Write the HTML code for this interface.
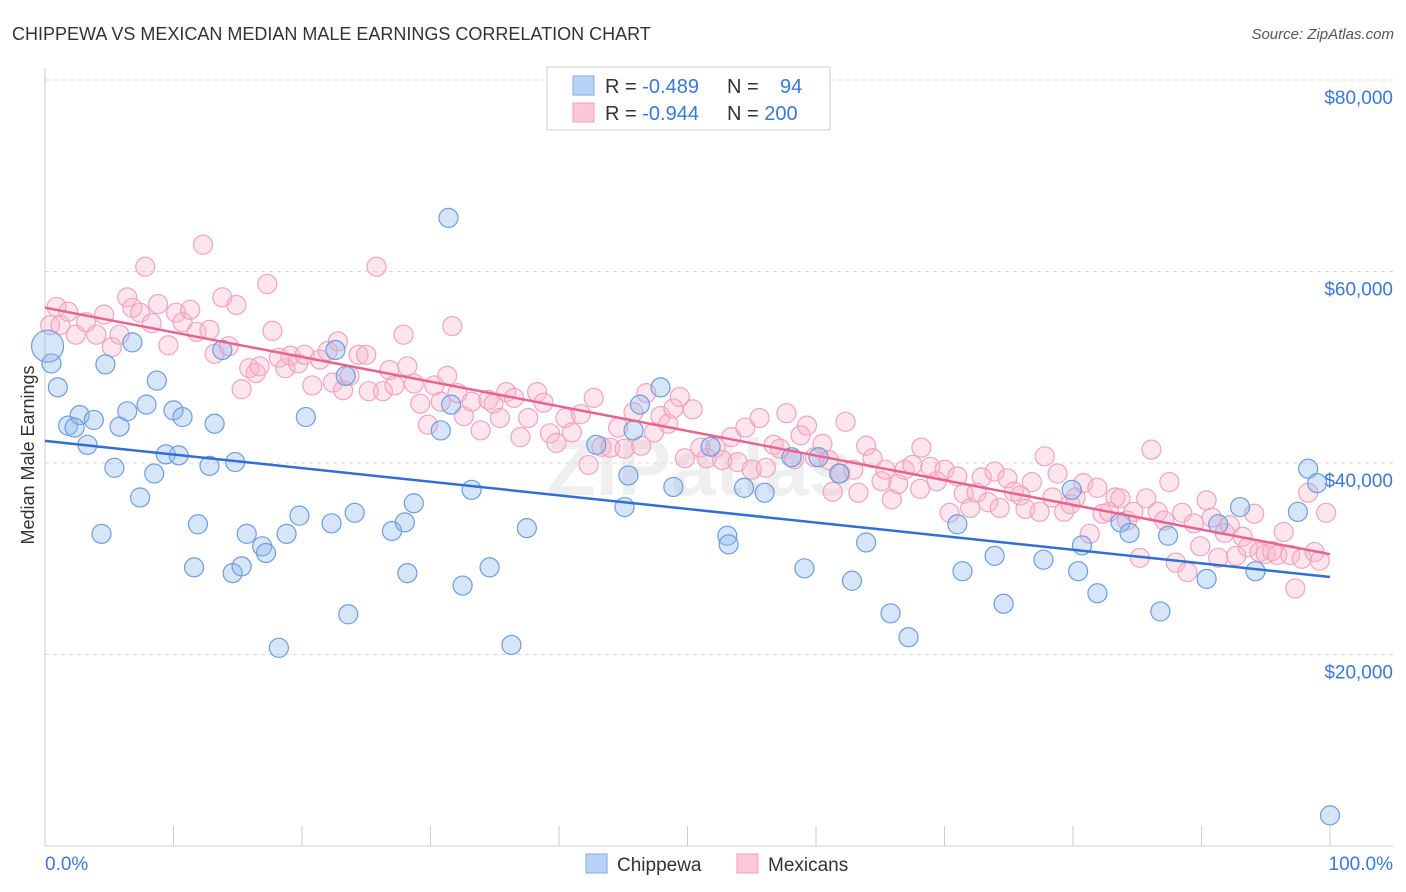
<!DOCTYPE html>
<html><head><meta charset="utf-8"><style>
body{margin:0;background:#fff;font-family:"Liberation Sans",sans-serif;}
#c{position:absolute;left:0;top:0;}
</style></head><body>
<svg id="c" width="1406" height="892" xmlns="http://www.w3.org/2000/svg">
<text x="12" y="40" font-size="18" fill="#333">CHIPPEWA VS MEXICAN MEDIAN MALE EARNINGS CORRELATION CHART</text>
<text x="1394" y="39" font-size="15" fill="#555" font-style="italic" text-anchor="end">Source: ZipAtlas.com</text>
<text x="34" y="455" font-size="18" fill="#333" transform="rotate(-90 34 455)" text-anchor="middle">Median Male Earnings</text>
<text x="700" y="495" font-size="80" font-weight="bold" fill="#efefef" text-anchor="middle">ZIPatlas</text>
<g id="grid"></g><g id="axes"></g><g id="pts"></g><g id="lines"></g>
<g>
<rect x="547" y="67" width="283" height="63" fill="#fff" stroke="#ccc"/>
<rect x="573" y="76" width="21" height="19" fill="#b8d3f5" stroke="#7ea9e0"/>
<rect x="573" y="103" width="21" height="19" fill="#fbc8d7" stroke="#f0a0bb"/>
<text x="605" y="93" font-size="20" fill="#333">R = <tspan fill="#3a78d8">-0.489</tspan></text>
<text x="727" y="93" font-size="20" fill="#333">N = <tspan x="780" fill="#3a78d8">94</tspan></text>
<text x="605" y="120" font-size="20" fill="#333">R = <tspan fill="#3a78d8">-0.944</tspan></text>
<text x="727" y="120" font-size="20" fill="#333">N = <tspan fill="#3a78d8">200</tspan></text>
</g>
<g>
<rect x="586" y="854" width="21" height="19" fill="#b8d3f5" stroke="#7ea9e0"/>
<text x="617" y="871" font-size="19" fill="#333">Chippewa</text>
<rect x="737" y="854" width="21" height="19" fill="#fbc8d7" stroke="#f0a0bb"/>
<text x="768" y="871" font-size="19" fill="#333">Mexicans</text>
</g>
</svg>
<script>
const yTicks=[20000,40000,60000,80000];
const yTickLabels=["$20,000","$40,000","$60,000","$80,000"];
const xTickLabels=["0.0%","100.0%"];
const blueX=[0.5,1.0,1.8,2.7,2.3,3.3,3.8,4.4,4.7,5.4,5.8,6.4,6.8,7.4,7.9,8.5,8.7,9.4,10.0,10.4,10.7,11.6,11.9,12.8,13.2,13.8,14.6,14.8,15.3,15.7,16.9,17.2,18.2,18.8,19.8,20.3,22.3,22.6,23.4,23.6,24.1,27.0,28.0,28.2,28.7,30.8,31.4,31.6,32.5,33.2,34.6,36.3,37.5,42.9,45.1,45.4,45.8,46.3,47.9,48.9,51.8,53.1,53.2,54.4,56.0,58.1,59.1,60.2,61.8,62.8,63.9,65.8,67.2,71.0,71.4,73.9,74.6,77.7,79.9,80.4,80.7,81.9,83.7,84.4,86.8,87.4,90.4,91.3,93.0,94.2,97.5,98.3,99.0,100,0.2];
const blueY=[50.4,47.9,43.9,45.0,43.7,41.9,44.5,32.6,50.3,39.5,43.8,45.4,52.6,36.4,46.1,38.9,48.6,40.9,45.5,40.8,44.8,29.1,33.6,39.7,44.1,51.8,28.5,40.1,29.2,32.6,31.3,30.6,20.7,32.6,34.5,44.8,33.7,51.8,49.1,24.2,34.8,32.9,33.8,28.5,35.8,43.4,65.6,46.1,27.2,37.2,29.1,21.0,33.2,41.9,35.4,38.7,43.4,46.1,47.9,37.5,41.7,32.4,31.5,37.4,36.9,40.6,29.0,40.6,38.9,27.7,31.7,24.3,21.8,33.6,28.7,30.3,25.3,29.9,37.2,28.7,31.4,26.4,33.8,32.7,24.5,32.4,27.9,33.6,35.4,28.7,34.9,39.4,37.9,3.2,52.2];
const pinkX=[0.4,0.9,1.2,1.8,2.4,3.2,4.0,4.6,5.2,5.8,6.4,6.8,7.4,7.8,8.3,8.8,9.6,10.2,10.7,11.3,11.8,12.3,12.8,13.2,13.8,14.3,14.9,15.3,15.9,16.4,16.7,17.3,17.7,18.2,18.7,19.1,19.7,20.2,20.8,21.4,22.0,22.4,22.8,23.2,23.7,24.4,25.0,25.2,25.8,26.3,26.8,27.2,27.9,28.2,28.7,29.2,29.8,30.3,30.8,31.3,31.7,32.1,32.6,33.2,33.9,34.5,34.9,35.4,35.9,36.5,37.0,37.6,38.3,38.8,39.3,39.8,40.5,41.0,41.7,42.3,42.7,43.3,44.0,44.6,45.1,45.8,46.4,46.8,47.4,47.9,48.5,48.9,49.4,49.8,50.4,51.0,51.5,52.2,52.7,53.4,53.9,54.5,55.0,55.6,56.1,56.7,57.2,57.7,58.3,58.8,59.3,59.9,60.5,61.0,61.3,61.9,62.3,62.9,63.3,63.9,64.4,65.1,65.4,65.9,66.4,66.9,67.5,68.1,68.2,68.9,69.4,70.0,70.4,71.0,71.5,72.0,72.5,72.9,73.4,73.9,74.3,74.9,75.4,75.9,76.3,76.8,77.4,77.8,78.4,78.8,79.3,79.8,80.2,80.8,81.3,81.9,82.3,82.8,83.3,83.7,84.2,84.7,85.2,85.7,86.1,86.6,87.1,87.5,88.0,88.5,88.9,89.4,89.9,90.4,90.8,91.3,91.8,92.2,92.7,93.2,93.6,94.1,94.5,95.0,95.5,95.9,96.4,96.9,97.3,97.8,98.3,98.8,99.2,99.7];
const pinkY=[54.4,56.3,54.4,55.8,53.4,54.7,53.4,55.5,52.1,53.4,57.3,56.2,55.7,60.5,54.6,56.6,52.3,55.7,54.7,56.0,53.7,62.8,53.9,51.4,57.3,52.2,56.5,47.7,49.9,49.4,50.1,58.7,53.8,51.0,49.9,51.2,50.4,51.3,48.1,50.8,51.7,48.4,52.7,47.6,49.1,51.3,51.3,47.5,60.5,47.5,49.7,48.1,53.4,50.1,48.3,46.2,44.0,48.1,46.4,49.1,54.3,47.3,44.9,46.4,43.4,46.6,46.2,44.7,47.4,46.8,42.7,44.7,47.4,46.3,43.1,42.1,44.7,43.2,45.1,39.8,46.8,41.7,41.6,43.7,41.5,45.3,41.8,47.3,43.2,44.9,44.1,45.7,46.9,40.5,45.6,41.6,40.5,41.6,40.3,42.7,40.1,43.7,39.3,44.7,39.5,41.9,41.5,45.2,40.4,42.9,43.9,40.6,42.0,40.3,37.0,38.9,44.3,39.3,36.9,41.8,40.5,38.1,39.3,36.2,37.8,39.3,39.8,37.3,41.6,39.6,38.1,39.3,34.8,38.6,36.8,35.3,36.9,38.5,35.9,39.1,35.3,38.4,37.0,36.6,35.2,38.0,34.9,40.7,36.4,38.9,34.9,35.7,36.4,37.9,32.6,37.4,34.7,34.9,36.4,36.3,34.0,34.9,30.1,36.3,41.4,34.9,34.0,38.0,29.6,34.8,28.6,33.7,31.3,36.1,34.3,30.1,32.7,33.5,30.3,32.3,31.2,34.7,30.7,30.5,30.8,30.4,32.8,30.4,26.9,30.0,36.9,30.7,29.8,34.8];
const NS='http://www.w3.org/2000/svg';
const X0=45,X1=1330,Y0=846,PY=191.5/20000;
function xs(p){return X0+(X1-X0)*p/100;}
function ys(v){return Y0-v*PY;}
function mk(t,a,parent){const e=document.createElementNS(NS,t);for(const k in a)e.setAttribute(k,a[k]);parent.appendChild(e);return e;}
const grid=document.getElementById('grid'),axes=document.getElementById('axes'),pts=document.getElementById('pts'),lines=document.getElementById('lines');
yTicks.forEach((v,i)=>{
 const l=mk('line',{x1:45,x2:1393,y1:ys(v),y2:ys(v),stroke:'#d8d8d8','stroke-dasharray':'4,4'},grid);
 
 
 const t=mk('text',{x:1393,y:ys(v)+24,'font-size':19,fill:'#3a78d8','text-anchor':'end'},axes);
 t.textContent=yTickLabels[i];
 
 
});
const ax=mk('line',{x1:45,x2:1393,y1:Y0,y2:Y0,stroke:'#ccc'},axes);


const ay=mk('line',{x1:45,x2:45,y1:68,y2:Y0,stroke:'#ccc'},axes);


for(let i=1;i<=10;i++){const tk=mk('line',{x1:xs(i*10),x2:xs(i*10),y1:Y0,y2:Y0-20,stroke:'#ccc'},axes);
 
 }
const xl0=mk('text',{x:45,y:870,'font-size':19,fill:'#3a78d8'},axes);xl0.textContent=xTickLabels[0];


const xl1=mk('text',{x:1393,y:870,'font-size':19,fill:'#3a78d8','text-anchor':'end'},axes);xl1.textContent=xTickLabels[1];


function draw(X,Y,fill,stroke,name){
 X.forEach((p,i)=>{const c=mk('circle',{cx:xs(p),cy:ys(Y[i]*1000),r:(name==='chippewa-point'&&i===X.length-1)?16:9.5,fill:fill,stroke:stroke,'stroke-width':1.2},pts);
 
 });
}
draw(pinkX,pinkY,'rgba(248,180,202,0.35)','#f2a3bf','mexicans-point');
draw(blueX,blueY,'rgba(140,180,235,0.35)','#6c9ee0','chippewa-point');
function reg(X,Y,col,name){const n=X.length;let mx=0,my=0;X.forEach((x,i)=>{mx+=x;my+=Y[i];});mx/=n;my/=n;let sxy=0,sxx=0;X.forEach((x,i)=>{sxy+=(x-mx)*(Y[i]-my);sxx+=(x-mx)*(x-mx);});const b=sxy/sxx,a=my-b*mx;
 const l=mk('line',{x1:xs(0),y1:ys(a*1000),x2:xs(100),y2:ys((a+b*100)*1000),stroke:col,'stroke-width':2.5},lines);
 
 }
reg(blueX,blueY,'#2f6fd6','chippewa-trendline');
reg(pinkX,pinkY,'#e8648f','mexicans-trendline');
</script>
</body></html>
